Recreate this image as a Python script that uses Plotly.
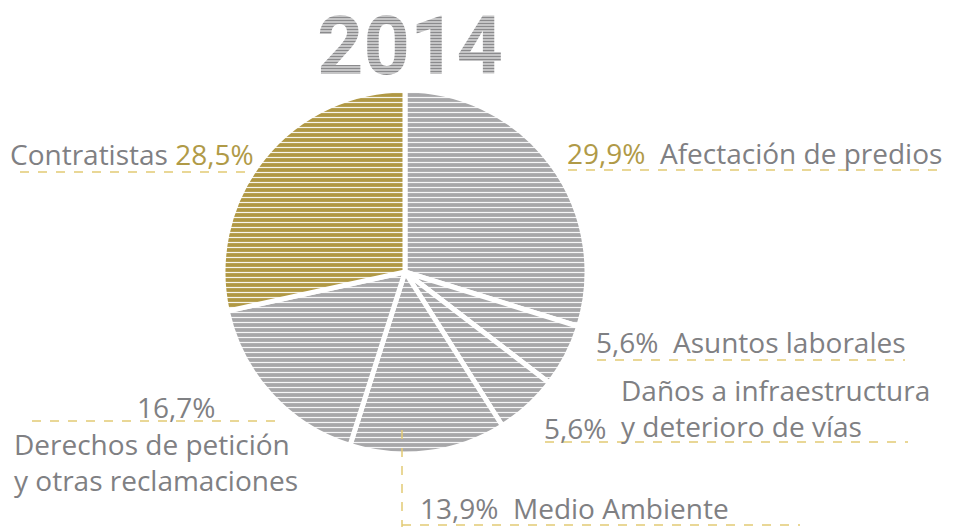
import plotly.graph_objects as go

# shares of complaints, 2014 (clockwise from 12 o'clock)
categories = ["Afectación de predios", "Asuntos laborales", "Daños a infraestructura y deterioro de vías",
              "Medio Ambiente", "Derechos de petición y otras reclamaciones", "Contratistas"]
values = [29.9, 5.6, 5.6, 13.9, 16.7, 28.5]
pct_labels = ["29,9%", "5,6%", "5,6%", "13,9%", "16,7%", "28,5%"]
year_label = "2014"

GRAY = "#a7a7a9"
GOLD = "#b09843"
TEXT = "#7f8083"
GOLD_TEXT = "#b09a47"
DASH = "#e2ca74"
W, H = 963, 527
FONT = "Open Sans"


def px(x):
    return x / W


def py(y):
    return 1 - y / H


colors = [GRAY, GRAY, GRAY, GRAY, GRAY, GOLD]

fig = go.Figure()
fig.add_trace(
    go.Pie(
        labels=categories,
        values=values,
        sort=False,
        direction="clockwise",
        rotation=0,
        textinfo="none",
        hoverinfo="label+percent",
        showlegend=False,
        domain=dict(x=[px(223), px(587)], y=[py(454), py(90)]),
        marker=dict(
            colors=colors,
            line=dict(color="white", width=5),
            pattern=dict(shape="-", fillmode="overlay", fgcolor="white",
                         fgopacity=0.9, size=5, solidity=0.24),
        ),
    )
)

# year heading as a text trace, so the stripe shapes can sit on top of it
fig.add_trace(
    go.Scatter(
        x=[px(410)], y=[py(54)], mode="text", text=[f"<b>{year_label}</b>"],
        textposition="middle center", hoverinfo="skip", showlegend=False,
        textfont=dict(family="Roboto", size=81, color="#8b8b8d"),
    )
)


def label(x, y, text, size=28, anchor="left"):
    return dict(
        x=px(x), y=py(y), xref="paper", yref="paper",
        text=text, showarrow=False, xanchor=anchor, yanchor="middle",
        align="left", font=dict(family=FONT, size=size, color=TEXT),
    )


def gold(s):
    return f"<span style='color:{GOLD_TEXT}'>{s}</span>"


annotations = [
    label(8, 154, f"Contratistas {gold(pct_labels[5])}"),
    label(565, 153, f"{gold(pct_labels[0])}  {categories[0]}"),
    label(594, 342, f"{pct_labels[1]}  {categories[1]}"),
    label(619, 408, "Daños a infraestructura<br>y deterioro de vías"),
    label(542, 428, pct_labels[2]),
    label(135, 407, pct_labels[4]),
    label(12, 462, "Derechos de petición<br>y otras reclamaciones"),
    label(418, 508, f"{pct_labels[3]}  {categories[3]}"),
]

# white stripes across the heading
shapes = [
    dict(type="line", xref="paper", yref="paper", x0=px(318), x1=px(502), y0=py(s), y1=py(s),
         layer="above", line=dict(color="white", width=1.2))
    for s in range(10, 86, 3)
]

# dashed leader lines under the labels
dash_lines = [
    (20, 172, 252, 172),
    (568, 170, 945, 170),
    (597, 360, 905, 360),
    (545, 442, 908, 442),
    (32, 421, 276, 421),
    (402, 525, 800, 525),
    (402, 430, 402, 527),
]
shapes += [
    dict(type="line", xref="paper", yref="paper", x0=px(a), y0=py(b), x1=px(c), y1=py(d),
         line=dict(color=DASH, width=1.5, dash="dash"))
    for a, b, c, d in dash_lines
]

fig.update_layout(
    width=W, height=H,
    margin=dict(l=0, r=0, t=0, b=0),
    paper_bgcolor="white", plot_bgcolor="white",
    xaxis=dict(range=[0, 1], visible=False, fixedrange=True),
    yaxis=dict(range=[0, 1], visible=False, fixedrange=True),
    annotations=annotations,
    shapes=shapes,
)

fig.write_html("out.html", config=dict(displayModeBar=False),
               post_script="document.body.style.margin='0px';")
